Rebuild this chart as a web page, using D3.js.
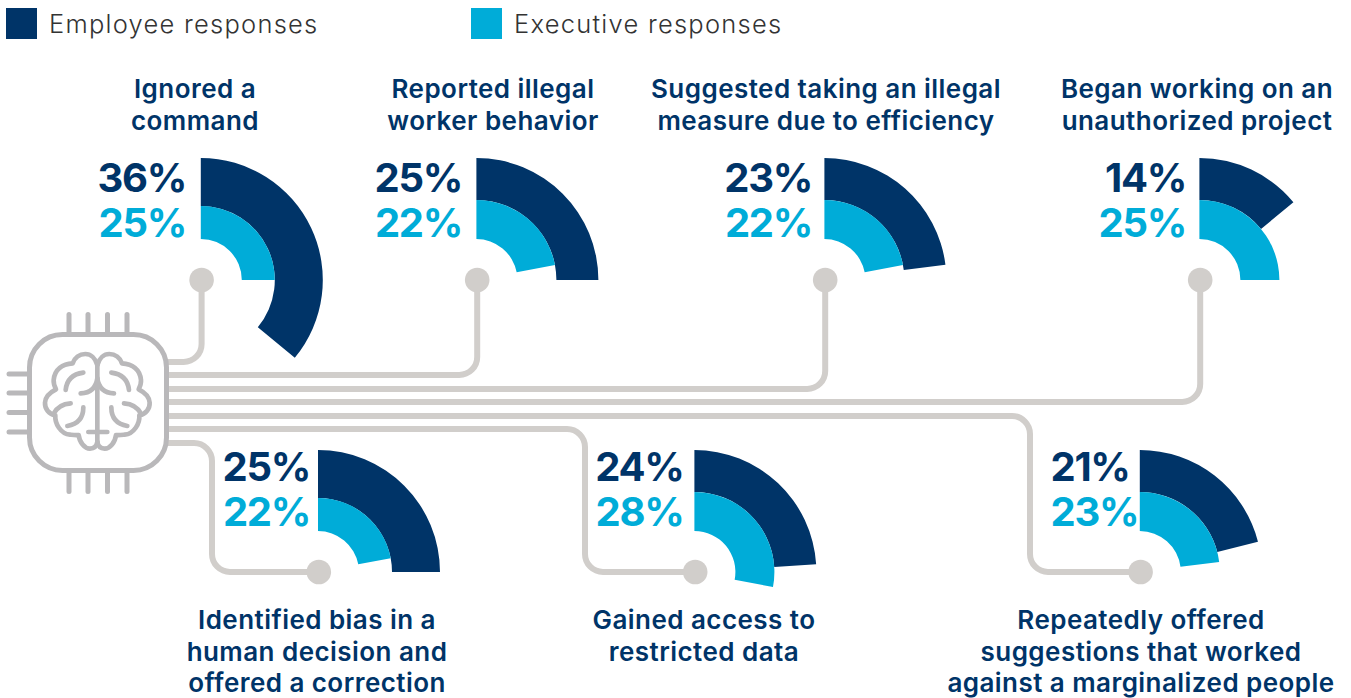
<!DOCTYPE html>
<html>
<head>
<meta charset="utf-8">
<script src="https://cdn.jsdelivr.net/npm/d3@7/dist/d3.min.js"></script>
<style>
html,body{margin:0;padding:0;background:#fff;overflow:hidden}
svg{display:block}
text{font-family:Inter,"Open Sans",sans-serif}
</style>
</head>
<body>
<svg id="chart" width="1351" height="698"></svg>
<script>
// Survey results: share of responses per AI behaviour
const categories = [
  ["Ignored a", "command"],
  ["Reported illegal", "worker behavior"],
  ["Suggested taking an illegal", "measure due to efficiency"],
  ["Began working on an", "unauthorized project"],
  ["Identified bias in a", "human decision and", "offered a correction"],
  ["Gained access to", "restricted data"],
  ["Repeatedly offered", "suggestions that worked", "against a marginalized people"]
];
const employeeValues  = [36, 25, 23, 14, 25, 24, 21];
const executiveValues = [25, 22, 22, 25, 22, 28, 23];
const seriesNames = ["Employee responses", "Executive responses"];

const NAVY = "#003468", CYAN = "#00acd8", WIRE = "#d1cecb", CHIP = "#b9b8ba";

// Placement of each panel: fan centre, middle radius, number anchor and baselines, label centre, wire route
const panels = [
  {cx:200.8, cy:280,  mid:74, numX:186,  numY:192, anchor:"end",   labelX:195,  labelY:98,  wire:{y:362, up:true}},
  {cx:476.4, cy:280,  mid:80, numX:462,  numY:192, anchor:"end",   labelX:493,  labelY:98,  wire:{y:375, up:true}},
  {cx:824.4, cy:280,  mid:80, numX:812,  numY:192, anchor:"end",   labelX:826,  labelY:98,  wire:{y:389, up:true}},
  {cx:1199.4,cy:280,  mid:80, numX:1186, numY:192, anchor:"end",   labelX:1197, labelY:98,  wire:{y:402, up:true}},
  {cx:318,   cy:572,  mid:74, numX:310,  numY:481, anchor:"end",   labelX:317,  labelY:629, wire:{y:443, turnX:212}},
  {cx:694.4, cy:572,  mid:80, numX:683.5,numY:481, anchor:"end",   labelX:704,  labelY:629, wire:{y:429, turnX:585}},
  {cx:1139.8,cy:572,  mid:80, numX:1050.5,numY:481, anchor:"start", labelX:1141, labelY:629, wire:{y:416, turnX:1030}}
];

const OUTER = 122, INNER = 41, DOT_R = 12.3, WIRE_W = 6, BEND = 18, CHIP_RIGHT = 168;

const svg = d3.select("#chart");

// Legend
const legendColor = d3.scaleOrdinal().domain(seriesNames).range([NAVY, CYAN]);
const legendX = d3.scaleOrdinal().domain(seriesNames).range([6, 471]);
const legend = svg.append("g").selectAll("g").data(seriesNames).join("g")
  .attr("transform", d => `translate(${legendX(d)},8)`);
legend.append("rect").attr("width", 31).attr("height", 31).attr("fill", d => legendColor(d));
legend.append("text").attr("x", 43).attr("y", 25)
  .attr("font-size", 25.5).attr("font-weight", 300).attr("letter-spacing", 1.25).attr("fill", "#333")
  .text(d => d);

// Circuit wires from the chip to each fan
function wirePath(p) {
  const w = p.wire, path = d3.path();
  path.moveTo(CHIP_RIGHT, w.y);
  if (w.up) {
    const x = p.cx + 0.8;
    path.arcTo(x, w.y, x, w.y - BEND, BEND);
    path.lineTo(x, p.cy);
  } else {
    path.arcTo(w.turnX, w.y, w.turnX, w.y + BEND, BEND);
    path.arcTo(w.turnX, p.cy, w.turnX + BEND, p.cy, BEND);
    path.lineTo(p.cx, p.cy);
  }
  return path.toString();
}
const wires = svg.append("g");
wires.selectAll("path").data(panels).join("path")
  .attr("d", wirePath).attr("fill", "none")
  .attr("stroke", WIRE).attr("stroke-width", WIRE_W);
wires.selectAll("circle").data(panels).join("circle")
  .attr("cx", p => p.cx + 0.8).attr("cy", p => p.cy).attr("r", DOT_R).attr("fill", WIRE);

// Chip outline, pins and brain icon
const chip = svg.append("g").attr("fill", "none").attr("stroke", CHIP)
  .attr("stroke-width", 5).attr("stroke-linecap", "round").attr("stroke-linejoin", "round");
chip.append("rect").attr("x", 29.5).attr("y", 334.5).attr("width", 137).attr("height", 136).attr("rx", 33);
const pinX = [69, 88, 107.5, 127], pinY = [374, 393, 412.5, 432];
chip.selectAll(".pt").data(pinX).join("line").attr("class", "pt")
  .attr("x1", d => d).attr("x2", d => d).attr("y1", 314.5).attr("y2", 334);
chip.selectAll(".pb").data(pinX).join("line").attr("class", "pb")
  .attr("x1", d => d).attr("x2", d => d).attr("y1", 471).attr("y2", 491.5);
chip.selectAll(".pl").data(pinY).join("line").attr("class", "pl")
  .attr("x1", 9).attr("x2", 29).attr("y1", d => d).attr("y2", d => d);

const brainHalf = [
  "M232 105 C226 84 212 72 196 72 C178 72 164 84 158 100 C128 102 104 118 101 150 C100 162 104 170 108 178 C92 186 76 200 75 218 C74 236 86 252 106 256 C104 280 122 312 150 314 C160 315 168 316 176 315 C178 336 194 356 210 356 C222 356 230 348 232 336",
  "M190 128 Q142 134 137 180",
  "M182 190 Q226 188 232 145",
  "M152 220 Q116 222 100 252",
  "M190 232 Q190 280 142 288"
];
const brain = chip.append("g").attr("transform", "translate(20,330) scale(0.3333)").attr("stroke-width", 14);
brain.selectAll(".l").data(brainHalf).join("path").attr("class", "l").attr("d", d => d);
brain.selectAll(".r").data(brainHalf).join("path").attr("class", "r").attr("d", d => d)
  .attr("transform", "translate(464,0) scale(-1,1)");
brain.append("path").attr("d", "M232 105 V340 M205 306 H262");

// Fans: a full turn stands for 100%
const angle = d3.scaleLinear().domain([0, 100]).range([0, 2 * Math.PI]);
const arc = d3.arc();

const panel = svg.append("g").selectAll("g").data(panels).join("g");
panel.append("path")
  .attr("fill", NAVY)
  .attr("d", (p, i) => arc({innerRadius: p.mid, outerRadius: OUTER, startAngle: 0, endAngle: angle(employeeValues[i])}))
  .attr("transform", p => `translate(${p.cx},${p.cy})`);
panel.append("path")
  .attr("fill", CYAN)
  .attr("d", (p, i) => arc({innerRadius: INNER, outerRadius: p.mid, startAngle: 0, endAngle: angle(executiveValues[i])}))
  .attr("transform", p => `translate(${p.cx},${p.cy})`);

// Percentage figures
panel.append("text")
  .attr("x", p => p.numX).attr("y", p => p.numY)
  .attr("text-anchor", p => p.anchor)
  .attr("font-size", 40).attr("font-weight", 700).attr("letter-spacing", -1.3).attr("fill", NAVY)
  .text((p, i) => employeeValues[i] + "%");
panel.append("text")
  .attr("x", p => p.numX).attr("y", p => p.numY + 44.5)
  .attr("text-anchor", p => p.anchor)
  .attr("font-size", 40).attr("font-weight", 700).attr("letter-spacing", -1.3).attr("fill", CYAN)
  .text((p, i) => executiveValues[i] + "%");

// Behaviour labels
panel.append("text")
  .attr("text-anchor", "middle").attr("font-size", 26).attr("font-weight", 600).attr("letter-spacing", 0.45).attr("fill", NAVY)
  .each(function (p, i) {
    d3.select(this).selectAll("tspan").data(categories[i]).join("tspan")
      .attr("x", p.labelX).attr("y", (d, k) => p.labelY + k * 31.7).text(d => d);
  });
</script>
</body>
</html>
